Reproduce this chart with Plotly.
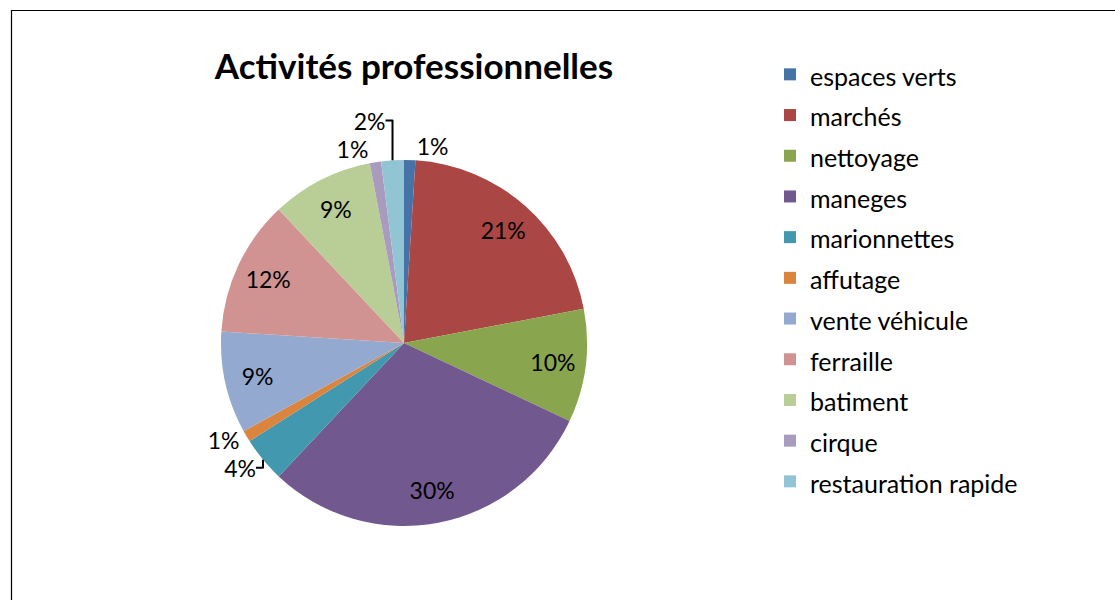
import plotly.graph_objects as go

categories = ["espaces verts", "marchés", "nettoyage", "maneges", "marionnettes",
              "affutage", "vente véhicule", "ferraille", "batiment", "cirque",
              "restauration rapide"]
values = [1, 21, 10, 30, 4, 1, 9, 12, 9, 1, 2]
colors = ["#4572A7", "#AA4643", "#89A54E", "#71588F", "#4198AF", "#DB843D",
          "#93A9CF", "#D19392", "#B9CD96", "#A99BBD", "#92C5D4"]
positions = ["outside" if v < 5 else "inside" for v in values]

W, H = 1115, 600
cx, cy, r = 404, 343, 183

FONT = "Lato, Calibri, Carlito, sans-serif"
domain = dict(x=[(cx - r) / W, (cx + r) / W], y=[1 - (cy + r) / H, 1 - (cy - r) / H])

# slices + legend
fig = go.Figure(go.Pie(
    labels=[f'<span style="font-size:25px">{c}</span>' for c in categories],
    values=values,
    sort=False,
    direction="clockwise",
    rotation=0,
    marker=dict(colors=colors, line=dict(width=0)),
    textinfo="none",
    hoverinfo="label+percent",
    domain=domain,
))

# percentage labels (transparent ring so inside labels sit near the rim)
fig.add_trace(go.Pie(
    labels=categories,
    values=values,
    sort=False,
    direction="clockwise",
    rotation=0,
    hole=0.64,
    marker=dict(colors=["rgba(0,0,0,0)"] * len(values), line=dict(width=0)),
    texttemplate="%{percent:.0%}",
    textposition=positions,
    insidetextorientation="horizontal",
    textfont=dict(family=FONT, size=23, color="black"),
    outsidetextfont=dict(family=FONT, size=23, color="black"),
    hoverinfo="skip",
    showlegend=False,
    domain=domain,
))

fig.update_layout(
    width=W, height=H,
    margin=dict(l=0, r=0, t=0, b=0, pad=0),
    paper_bgcolor="white",
    plot_bgcolor="white",
    font=dict(family=FONT, color="black"),
    title=dict(text="<b>Activités professionnelles</b>", x=414 / W, xanchor="center",
               y=1 - 67 / H, yanchor="middle", font=dict(family=FONT, size=35, color="black")),
    legend=dict(x=770 / W, xanchor="left", y=1 - 49 / H, yanchor="top",
                font=dict(family=FONT, size=29, color="black"),
                itemwidth=30, bgcolor="rgba(0,0,0,0)", traceorder="normal"),
    shapes=[dict(type="rect", xref="paper", yref="paper",
                 x0=11.5 / W, x1=1.05, y0=-0.05, y1=1 - 10.5 / H,
                 line=dict(color="black", width=1.2), fillcolor="rgba(0,0,0,0)", layer="below")],
)

fig.write_html("out.html", config={"displayModeBar": False},
               post_script="document.body.style.margin='0';document.body.style.overflow='hidden';")
